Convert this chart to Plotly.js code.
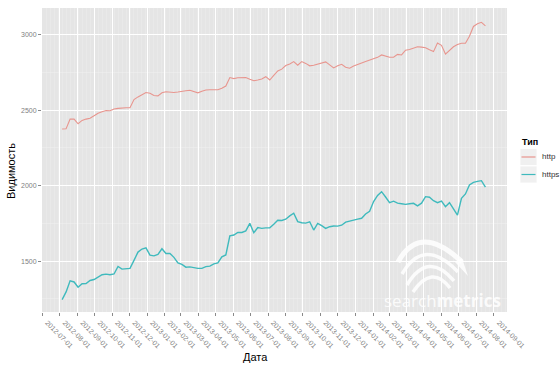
<!DOCTYPE html>
<html>
<head>
<meta charset="utf-8">
<script src="https://cdn.plot.ly/plotly-3.0.1.min.js"></script>
<style>html,body{margin:0;padding:0;background:#fff;}#chart{width:560px;height:373px;}</style>
</head>
<body>
<div id="chart"></div>
<script>
const dates = [
'2012-08-05','2012-08-12','2012-08-19','2012-08-26','2012-09-02','2012-09-09','2012-09-16','2012-09-23','2012-09-30',
'2012-10-07','2012-10-14','2012-10-21','2012-10-28','2012-11-04','2012-11-11','2012-11-18','2012-11-25',
'2012-12-02','2012-12-09','2012-12-16','2012-12-23','2012-12-30',
'2013-01-06','2013-01-13','2013-01-20','2013-01-27','2013-02-03','2013-02-10','2013-02-17','2013-02-24',
'2013-03-03','2013-03-10','2013-03-17','2013-03-24','2013-03-31','2013-04-07','2013-04-14','2013-04-21','2013-04-28',
'2013-05-05','2013-05-12','2013-05-19','2013-05-26','2013-06-02','2013-06-09','2013-06-16','2013-06-23','2013-06-30',
'2013-07-07','2013-07-14','2013-07-21','2013-07-28','2013-08-04','2013-08-11','2013-08-18','2013-08-25',
'2013-09-01','2013-09-08','2013-09-15','2013-09-22','2013-09-29','2013-10-06','2013-10-13','2013-10-20','2013-10-27',
'2013-11-03','2013-11-10','2013-11-17','2013-11-24','2013-12-01','2013-12-08','2013-12-15','2013-12-22','2013-12-29',
'2014-01-05','2014-01-12','2014-01-19','2014-01-26','2014-02-02','2014-02-09','2014-02-16','2014-02-23',
'2014-03-02','2014-03-09','2014-03-16','2014-03-23','2014-03-30','2014-04-06','2014-04-13','2014-04-20','2014-04-27',
'2014-05-04','2014-05-11','2014-05-18','2014-05-25','2014-06-01','2014-06-08','2014-06-15','2014-06-22','2014-06-29',
'2014-07-06','2014-07-13','2014-07-20','2014-07-27','2014-08-03','2014-08-10','2014-08-17'
];

const httpValues = [
2375,2377,2441,2441,2410,2432,2441,2447,2463,
2480,2489,2498,2496,2508,2512,2516,2516,
2516,2570,2588,2603,2617,
2612,2597,2595,2615,2622,2617,2617,2620,
2627,2629,2632,2625,2615,2625,2634,2635,2635,
2635,2645,2660,2716,2709,2715,2716,2716,2705,
2695,2700,2707,2722,2700,2730,2760,2772,
2796,2806,2822,2798,2822,2810,2794,2798,2806,
2812,2820,2800,2780,2795,2804,2785,2778,2792,
2800,2812,2822,2832,2838,2850,2866,2858,
2851,2851,2870,2866,2897,2902,2910,2920,2918,
2914,2900,2888,2945,2930,2872,2895,2920,2935,
2943,2943,2990,3055,3072,3082,3058
];

const httpsValues = [
1245,1296,1370,1362,1327,1350,1352,1372,1378,
1395,1410,1414,1410,1415,1465,1447,1449,
1452,1505,1560,1580,1588,
1540,1535,1545,1582,1551,1551,1525,1488,
1478,1460,1462,1455,1452,1452,1464,1467,1482,
1488,1529,1541,1667,1673,1690,1690,1700,1750,
1688,1722,1717,1720,1721,1744,1771,1769,
1778,1800,1817,1762,1754,1752,1761,1706,1750,
1735,1717,1728,1733,1732,1738,1758,1766,1770,
1778,1784,1812,1830,1895,1935,1960,1925,
1887,1897,1884,1880,1876,1880,1883,1866,1884,
1927,1923,1900,1887,1898,1861,1887,1850,1805,
1916,1945,2005,2022,2028,2033,1990
];

const seriesNames = ['http', 'https'];
const seriesColors = ['#E8958E', '#3FBABD'];
const yTicks = [1500, 2000, 2500, 3000];

// plot-area geometry (pixels) used for placing legend / watermark in paper coordinates
const W = 560, H = 373, L = 42, R = 53, T = 8, B = 61;
const PW = W - L - R, PH = H - T - B;
const px = v => (v - L) / PW;
const py = v => 1 - (v - T) / PH;

const fontFam = 'Liberation Sans, Arial, sans-serif';
const tickFont = {family: fontFam, size: 7, color: '#7f7f7f'};

const traces = [
  {x: dates, y: httpValues, name: seriesNames[0], type: 'scatter', mode: 'lines',
   line: {color: seriesColors[0], width: 1.1}},
  {x: dates, y: httpsValues, name: seriesNames[1], type: 'scatter', mode: 'lines',
   line: {color: seriesColors[1], width: 1.4}}
];

// custom legend (ggplot style: grey key boxes, short key lines)
const shapes = [];
const annotations = [];
seriesNames.forEach((n, i) => {
  const yc = 157 + i * 17.5;
  shapes.push({type: 'rect', xref: 'paper', yref: 'paper', x0: px(520), x1: px(537), y0: py(yc - 8.5), y1: py(yc + 8.5),
    fillcolor: '#f0f0f0', line: {width: 0.8, color: '#ffffff'}, layer: 'above'});
  shapes.push({type: 'line', xref: 'paper', yref: 'paper', x0: px(521.5), x1: px(535.5), y0: py(yc), y1: py(yc),
    line: {color: seriesColors[i], width: 1.2}, layer: 'above'});
  annotations.push({text: n, xref: 'paper', yref: 'paper', x: px(540), y: py(yc), xanchor: 'left', yanchor: 'middle',
    showarrow: false, font: {family: fontFam, size: 8, color: '#333333'}});
});
annotations.push({text: '<b>Тип</b>', xref: 'paper', yref: 'paper', x: px(520), xanchor: 'left', y: py(142), yanchor: 'middle',
  showarrow: false, font: {family: fontFam, size: 9, color: '#000'}});
annotations.push({text: 'Дата', xref: 'paper', yref: 'paper', x: px(255), y: py(357), xanchor: 'center', yanchor: 'middle',
  showarrow: false, font: {family: fontFam, size: 11, color: '#000'}});
annotations.push({text: 'Видимость', xref: 'paper', yref: 'paper', x: px(11), y: py(171), xanchor: 'center', yanchor: 'middle',
  textangle: -90, showarrow: false, font: {family: fontFam, size: 11, color: '#000'}});
annotations.push({text: 'search<b>metrics</b>', xref: 'paper', yref: 'paper', x: px(442), y: py(300), xanchor: 'center', yanchor: 'middle',
  showarrow: false, font: {family: 'Open Sans, sans-serif', size: 17, color: 'rgba(255,255,255,0.85)'}});

// watermark swoosh (approximate)
function pathPx(cmds) {
  return cmds.map(c => c[0] + ' ' + c.slice(1).map((v, k) => (k % 2 === 0 ? px(v) : py(v)).toFixed(4)).join(' ')).join(' ');
}
const swooshes = [
  [['M', 398, 262], ['Q', 420, 222, 462, 262]],
  [['M', 402, 274], ['Q', 424, 236, 458, 272]],
  [['M', 407, 285], ['Q', 428, 250, 454, 281]],
  [['M', 413, 292], ['Q', 432, 264, 450, 288]]
];
swooshes.forEach((s, i) => {
  shapes.push({type: 'path', xref: 'paper', yref: 'paper', path: pathPx(s),
    line: {color: 'rgba(255,255,255,0.85)', width: i === 0 ? 5 : 3.5}, layer: 'above'});
});
shapes.push({type: 'path', xref: 'paper', yref: 'paper',
  path: pathPx([['M', 455, 262], ['L', 468, 276], ['L', 462, 258], ['Z']]),
  fillcolor: 'rgba(255,255,255,0.85)', line: {width: 0}, layer: 'above'});

const layout = {
  width: W, height: H,
  margin: {l: L, r: R, t: T, b: B},
  paper_bgcolor: '#ffffff',
  plot_bgcolor: '#e5e5e5',
  showlegend: false,
  xaxis: {
    type: 'date',
    range: ['2012-06-30 18:00', '2014-09-23 20:00'],
    tick0: '2012-07-01', dtick: 'M1',
    tickformat: '%Y-%m-%d', tickangle: 45,
    ticklabelshift: 5,
    tickfont: tickFont,
    ticks: 'outside', ticklen: 3, tickcolor: '#8a8a8a', tickwidth: 1,
    showgrid: true, gridcolor: '#ffffff', gridwidth: 1,
    minor: {dtick: 7*86400000, tick0: '2012-07-01', showgrid: true, gridcolor: '#eeeeee', gridwidth: 0.5, ticks: ''},
    zeroline: false, showline: false, automargin: false
  },
  yaxis: {
    range: [1163, 3177],
    tickvals: yTicks,
    tickfont: tickFont,
    ticks: 'outside', ticklen: 3, tickcolor: '#8a8a8a', tickwidth: 1,
    showgrid: true, gridcolor: '#ffffff', gridwidth: 1,
    minor: {dtick: 250, tick0: 1250, showgrid: true, gridcolor: '#f2f2f2', gridwidth: 0.5, ticks: ''},
    zeroline: false, showline: false, automargin: false
  },
  shapes: shapes,
  annotations: annotations
};

Plotly.newPlot('chart', traces, layout, {displayModeBar: false, staticPlot: true});
</script>
</body>
</html>
